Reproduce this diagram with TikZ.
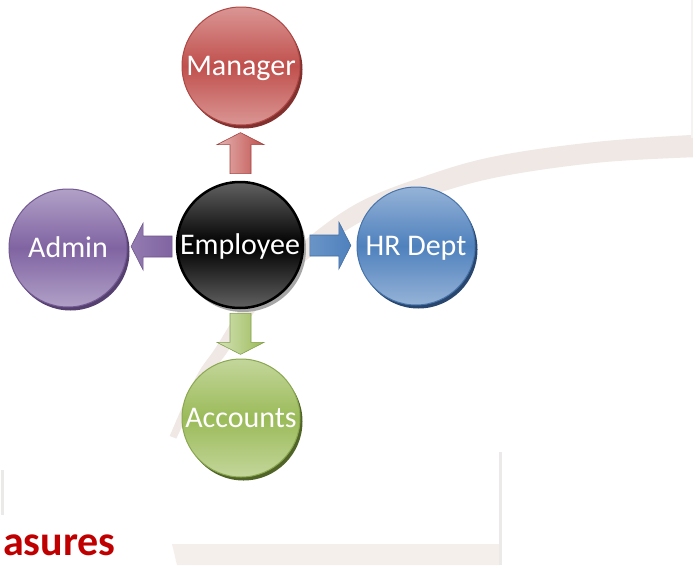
\documentclass[tikz,border=0pt]{standalone}
\usepackage{fontspec}
\setmainfont{Carlito}
\usetikzlibrary{calc}
\definecolor{arcc}{RGB}{240,232,228}
\definecolor{bandc}{RGB}{245,239,236}
\definecolor{edgec}{RGB}{236,234,233}
\definecolor{asred}{RGB}{192,0,0}
\definecolor{redM}{RGB}{192,80,77}
\definecolor{redL}{RGB}{218,150,148}
\definecolor{redS}{RGB}{130,48,46}
\definecolor{purM}{RGB}{128,100,162}
\definecolor{purL}{RGB}{177,160,199}
\definecolor{purS}{RGB}{85,64,112}
\definecolor{bluM}{RGB}{79,129,189}
\definecolor{bluL}{RGB}{149,179,215}
\definecolor{bluS}{RGB}{40,70,110}
\definecolor{grnM}{RGB}{155,187,89}
\definecolor{grnL}{RGB}{195,214,155}
\definecolor{grnS}{RGB}{80,100,40}
\newcommand\blockarr[3]{%
  \begin{scope}[shift={(#1)}, rotate=#2]
    \path[#3] (-20.5,-10.5)--(8.5,-10.5)--(8.5,-23.5)--(20.5,0)--(8.5,23.5)--(8.5,10.5)--(-20.5,10.5)--cycle;
  \end{scope}}
\begin{document}
\begin{tikzpicture}[x=1pt,y=-1pt,
  bubble/.style={circle, inner sep=0pt, minimum size=118pt, text=white,
    font=\fontsize{30}{35}\selectfont, text height=19.5pt, text depth=0pt},
  arrowst/.style 2 args={left color=#1, right color=#2, draw=#2!85!black, line width=0.6pt}
]
\useasboundingbox (0,0) rectangle (693,565);
\fill[white] (0,0) rectangle (693,565);
% background decoration
\fill[arcc] plot[smooth, tension=0.6] coordinates {(169.7,436) (195.9,377.3) (215.2,348.4) (250,295) (295.2,248.6) (356,204) (427,175.4) (498,155.7) (599,141.6) (700,134.5)}
  -- plot[smooth, tension=0.6] coordinates {(700,157) (601,162.4) (502,176.3) (433,194.6) (364,220) (304.8,261.4) (260,305) (224.8,355.6) (204.1,382.7) (176.3,438.5)} -- cycle;
\fill[bandc] (172,544) -- (500,544) -- (500,565) -- (177,565) -- cycle;
\fill[edgec] (499,452) rectangle (502,565);
\fill[edgec] (1,470) rectangle (4,515);
\fill[edgec!60!white] (690.5,0) rectangle (693,138);
% centres
\coordinate (cM) at (241,66);
\coordinate (cE) at (240,245);
\coordinate (cA) at (68,248);
\coordinate (cH) at (416,246);
\coordinate (cC) at (241,418);
% shadows
\fill[redS] ($(cM)+(2.5,3.5)$) circle[radius=59];
\fill[gray!70] ($(cE)+(3,4)$) circle[radius=63];
\fill[purS] ($(cA)+(2.5,3.5)$) circle[radius=59];
\fill[bluS] ($(cH)+(2.5,3.5)$) circle[radius=59];
\fill[grnS] ($(cC)+(2.5,3.5)$) circle[radius=59];
% nodes
\node[bubble, top color=redL, bottom color=redL, middle color=redM, draw=redM!90!black, line width=1pt] (mgr) at (cM) {Manager};
\node[bubble, minimum size=126pt, top color=black!62, bottom color=black!62, middle color=black, draw=black, line width=2.5pt] (emp) at (cE) {Employee};
\node[bubble, top color=purL, bottom color=purL, middle color=purM, draw=purM!90!black, line width=1pt] (adm) at (cA) {Admin};
\node[bubble, top color=bluL, bottom color=bluL, middle color=bluM, draw=bluM!90!black, line width=1pt] (hr) at (cH) {HR Dept};
\node[bubble, top color=grnL, bottom color=grnL, middle color=grnM, draw=grnM!90!black, line width=1pt] (acc) at (cC) {Accounts};
% connectors
\coordinate (aU) at ($(emp.north)!0.5!(mgr.south)$);
\coordinate (aD) at ($(emp.south)!0.5!(acc.north)$);
\coordinate (aL) at ($(emp.west)!0.5!(adm.east)$);
\coordinate (aR) at ($(emp.east)!0.5!(hr.west)$);
\blockarr{aU}{90}{arrowst={redL!70!white}{redM}}
\blockarr{aD}{-90}{arrowst={grnL!70!white}{grnM}}
\blockarr{aL}{180}{arrowst={purM!85!white}{purM}}
\blockarr{aR}{0}{arrowst={bluM!85!white}{bluM}}
% text
\node[anchor=base west, inner sep=0pt, text=asred, font=\bfseries\fontsize{42}{48}\selectfont] (meas) at (3,555) {asures};
\end{tikzpicture}
\end{document}
